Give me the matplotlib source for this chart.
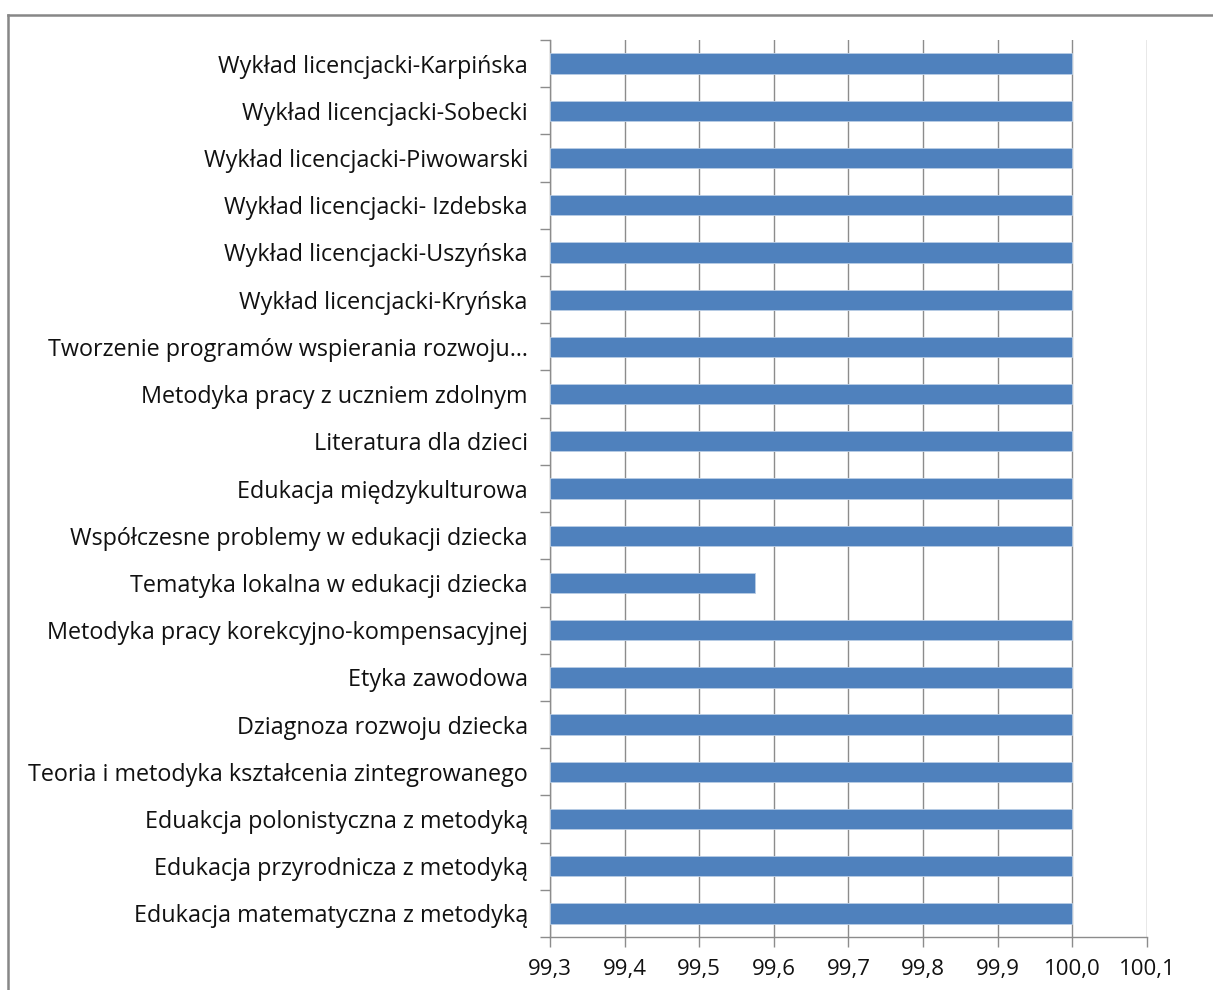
import matplotlib.pyplot as plt
from matplotlib.lines import Line2D
from matplotlib.ticker import FixedLocator, FuncFormatter

plt.rcParams['font.family'] = ['Open Sans', 'DejaVu Sans']

# categories, top to bottom as shown
courses = [
    "Wykład licencjacki-Karpińska",
    "Wykład licencjacki-Sobecki",
    "Wykład licencjacki-Piwowarski",
    "Wykład licencjacki- Izdebska",
    "Wykład licencjacki-Uszyńska",
    "Wykład licencjacki-Kryńska",
    "Tworzenie programów wspierania rozwoju…",
    "Metodyka pracy z uczniem zdolnym",
    "Literatura dla dzieci",
    "Edukacja międzykulturowa",
    "Współczesne problemy w edukacji dziecka",
    "Tematyka lokalna w edukacji dziecka",
    "Metodyka pracy korekcyjno-kompensacyjnej",
    "Etyka zawodowa",
    "Dziagnoza rozwoju dziecka",
    "Teoria i metodyka kształcenia zintegrowanego",
    "Eduakcja polonistyczna z metodyką",
    "Edukacja przyrodnicza z metodyką",
    "Edukacja matematyczna z metodyką",
]
scores = [100.0] * 11 + [99.575] + [100.0] * 7
x_ticks = [99.3, 99.4, 99.5, 99.6, 99.7, 99.8, 99.9, 100.0, 100.1]

fig = plt.figure(figsize=(12.13, 9.9), dpi=100)
ax = fig.add_axes([0.4534, 0.0535, 0.4922, 0.9061])

ypos = list(range(len(courses)))
base = 99.3
ax.barh(ypos, [s - base for s in scores], left=base, height=0.43,
        color="#4F81BD", edgecolor="#B9CDE5", linewidth=0.6, zorder=3)

ax.set_xlim(99.3, 100.1)
ax.set_ylim(len(courses) - 0.5, -0.5)

ax.xaxis.set_major_locator(FixedLocator(x_ticks))
ax.xaxis.set_major_formatter(FuncFormatter(lambda v, p: f"{v:.1f}".replace(".", ",")))
ax.grid(axis="x", color="#8C8C8C", linewidth=1.0, zorder=0)

ax.set_yticks(ypos)
ax.set_yticklabels(courses)
ax.yaxis.set_minor_locator(FixedLocator([i - 0.5 for i in range(len(courses) + 1)]))
ax.tick_params(axis="y", which="major", length=0, pad=16, labelsize=16.8, colors="#111111")
ax.tick_params(axis="y", which="minor", length=7, width=1.0, color="#8C8C8C")
ax.tick_params(axis="x", which="major", length=7, width=1.0, color="#8C8C8C",
               labelsize=16, pad=9, labelcolor="#111111")

for s in ("top", "right"):
    ax.spines[s].set_visible(False)
for s in ("left", "bottom"):
    ax.spines[s].set_color("#8C8C8C")
    ax.spines[s].set_linewidth(1.0)

# outer chart frame
fig.add_artist(Line2D([8 / 1213, 8 / 1213], [0, 1 - 15 / 990], color="#878787", linewidth=1.8))
fig.add_artist(Line2D([8 / 1213, 1], [1 - 15 / 990, 1 - 15 / 990], color="#878787", linewidth=1.8))

fig.savefig("out.png", dpi=100)
